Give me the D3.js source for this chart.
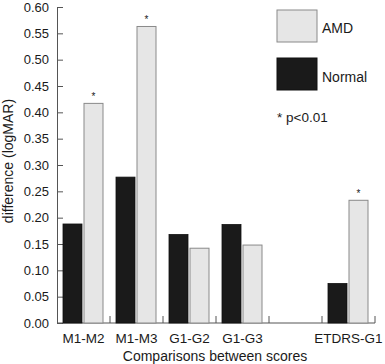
<!DOCTYPE html>
<html>
<head>
<meta charset="utf-8">
<script src="https://cdn.jsdelivr.net/npm/d3@7"></script>
<style>
  body { margin: 0; background: #fff; }
  text { font-family: "Liberation Sans", Arial, sans-serif; fill: #1a1a1a; }
</style>
</head>
<body>
<div id="chart"></div>
<script>
// data
var categories = ["M1-M2", "M1-M3", "G1-G2", "G1-G3", "", "ETDRS-G1"];
var normalValues = [0.188, 0.277, 0.168, 0.187, null, 0.075];
var amdValues = [0.417, 0.563, 0.142, 0.148, null, 0.233];
var significant = [true, true, false, false, false, true];
var yTicks = [0, 0.05, 0.10, 0.15, 0.20, 0.25, 0.30, 0.35, 0.40, 0.45, 0.50, 0.55, 0.60];

var margin = {top: 7, right: 10, bottom: 41, left: 57},
    width = 385 - margin.left - margin.right,
    height = 364 - margin.top - margin.bottom;

var svg = d3.select("#chart")
  .append("svg")
    .attr("width", 385)
    .attr("height", 364)
  .append("g")
    .attr("transform", "translate(" + margin.left + "," + margin.top + ")");

var x = d3.scaleBand()
    .domain(d3.range(categories.length))
    .range([0, width]);

var y = d3.scaleLinear()
    .domain([0, 0.6])
    .range([height, 0]);

var axisColor = "#555";

// y axis, ticks pointing inward
var yAxis = svg.append("g")
    .call(d3.axisLeft(y).tickValues(yTicks).tickSize(-6).tickPadding(8)
      .tickFormat(d3.format(".2f")));
yAxis.select(".domain").attr("stroke", axisColor);
yAxis.selectAll(".tick line").attr("stroke", axisColor);
yAxis.selectAll("text").style("font-size", "13px").attr("fill", "#1a1a1a")
    .style("font-family", "'Liberation Sans', Arial, sans-serif");

// x axis: ticks at slot boundaries
var boundaries = d3.range(1, categories.length + 1).map(function(i) { return x(i - 1) + x.bandwidth(); });
var xAxisG = svg.append("g").attr("transform", "translate(0," + height + ")");
xAxisG.append("line")
    .attr("x1", 0).attr("x2", width)
    .attr("stroke", axisColor);
xAxisG.selectAll(".btick")
    .data(boundaries)
    .enter()
    .append("line")
      .attr("x1", function(d) { return d; })
      .attr("x2", function(d) { return d; })
      .attr("y1", 0).attr("y2", -7)
      .attr("stroke", axisColor);
xAxisG.selectAll(".clabel")
    .data(categories)
    .enter()
    .append("text")
      .attr("x", function(d, i) { return x(i) + x.bandwidth() / 2; })
      .attr("y", 20)
      .attr("text-anchor", "middle")
      .style("font-size", "13.5px")
      .text(function(d) { return d; });

// bars
var barW = 19, pad = 6, gap = 2;
var groups = svg.selectAll(".grp")
    .data(categories.map(function(c, i) { return {i: i, n: normalValues[i], a: amdValues[i], s: significant[i]}; })
      .filter(function(d) { return d.n !== null; }))
    .enter()
    .append("g");

groups.append("rect")
    .attr("x", function(d) { return x(d.i) + pad; })
    .attr("y", function(d) { return y(d.n); })
    .attr("width", barW)
    .attr("height", function(d) { return height - y(d.n); })
    .attr("fill", "#1a1a1a")
    .attr("stroke", "#111")
    .attr("stroke-width", 0.8);

groups.append("rect")
    .attr("x", function(d) { return x(d.i) + pad + barW + gap; })
    .attr("y", function(d) { return y(d.a); })
    .attr("width", barW)
    .attr("height", function(d) { return height - y(d.a); })
    .attr("fill", "#e6e6e6")
    .attr("stroke", "#8a8a8a")
    .attr("stroke-width", 1);

groups.filter(function(d) { return d.s; })
  .append("text")
    .attr("x", function(d) { return x(d.i) + pad + barW + gap + barW / 2; })
    .attr("y", function(d) { return y(d.a) - 3; })
    .attr("text-anchor", "middle")
    .style("font-size", "10px")
    .text("*");

// axis titles
svg.append("text")
    .attr("x", width / 2 - 1)
    .attr("y", height + 38)
    .attr("text-anchor", "middle")
    .style("font-size", "14px")
    .text("Comparisons between scores");

svg.append("text")
    .attr("transform", "rotate(-90)")
    .attr("x", -154)
    .attr("y", -44.5)
    .attr("text-anchor", "middle")
    .style("font-size", "14px")
    .text("difference (logMAR)");

// legend
var legend = svg.append("g").attr("transform", "translate(" + (277 - margin.left) + "," + (10 - margin.top) + ")");
legend.append("rect")
    .attr("x", 0).attr("y", 0).attr("width", 40).attr("height", 32)
    .attr("fill", "#e6e6e6").attr("stroke", "#8a8a8a");
legend.append("text")
    .attr("x", 45).attr("y", 23).style("font-size", "14px").text("AMD");
legend.append("rect")
    .attr("x", 0).attr("y", 48).attr("width", 40).attr("height", 32)
    .attr("fill", "#1a1a1a").attr("stroke", "#111");
legend.append("text")
    .attr("x", 45).attr("y", 72).style("font-size", "14px").text("Normal");
legend.append("text")
    .attr("x", 0).attr("y", 112).style("font-size", "13.5px").text("* p<0.01");
</script>
</body>
</html>
